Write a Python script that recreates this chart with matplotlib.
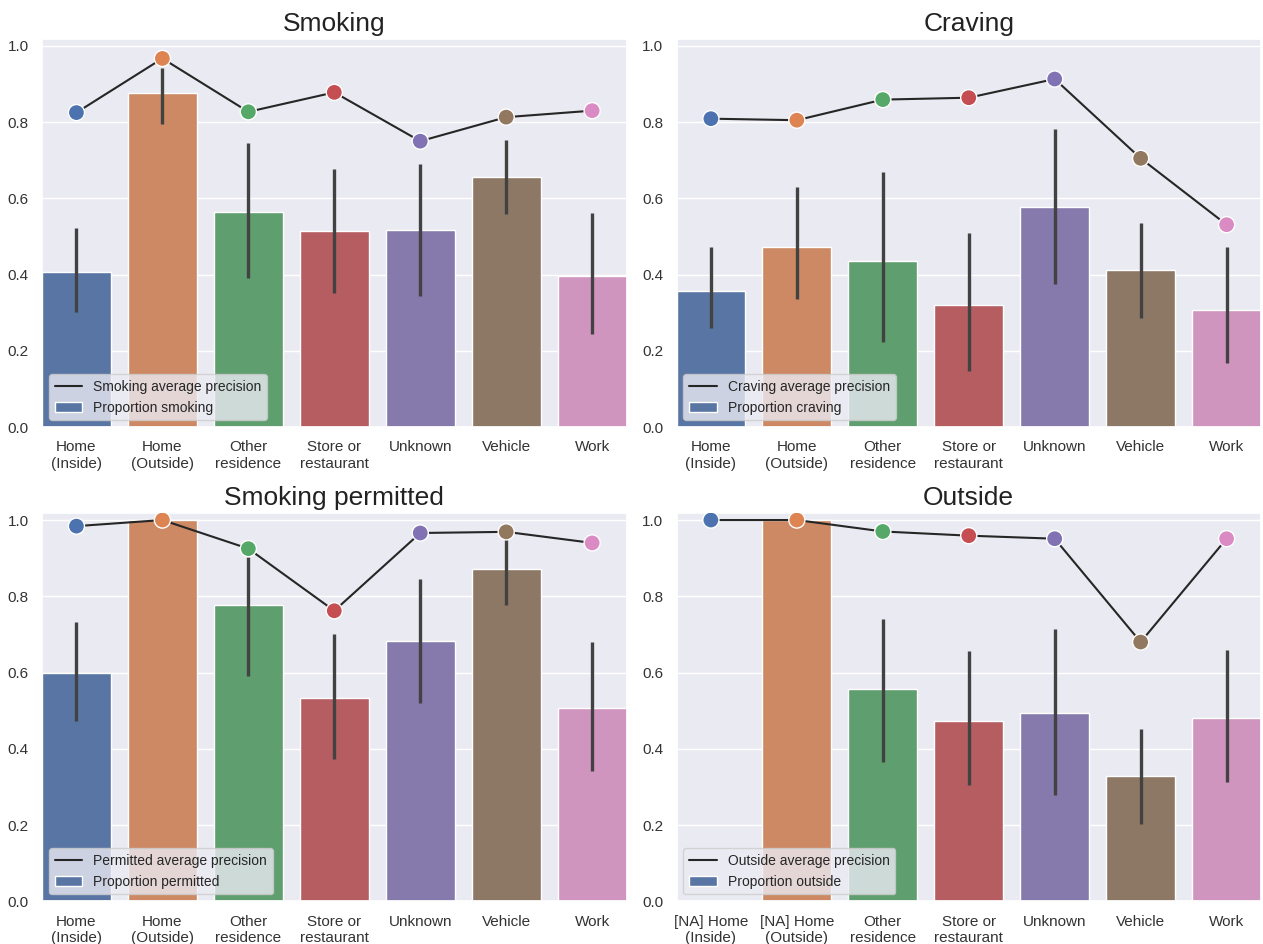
import matplotlib.pyplot as plt
import numpy as np
import seaborn as sns

sns.set_theme(style="darkgrid")
plt.rcParams['font.family'] = ['Liberation Sans', 'DejaVu Sans']

locations = ["Home\n(Inside)", "Home\n(Outside)", "Other\nresidence", "Store or\nrestaurant",
             "Unknown", "Vehicle", "Work"]
locations_outside = ["[NA] Home\n(Inside)", "[NA] Home\n(Outside)", "Other\nresidence",
                     "Store or\nrestaurant", "Unknown", "Vehicle", "Work"]

# proportion per location, with 95% CI bounds, and classifier average precision
smoking_prop = [0.406, 0.877, 0.564, 0.514, 0.517, 0.657, 0.397]
smoking_lo = [0.301, 0.795, 0.392, 0.351, 0.344, 0.559, 0.243]
smoking_hi = [0.521, 0.942, 0.746, 0.677, 0.691, 0.753, 0.561]
smoking_ap = [0.825, 0.967, 0.827, 0.878, 0.750, 0.813, 0.830]

craving_prop = [0.357, 0.472, 0.436, 0.321, 0.578, 0.411, 0.306]
craving_lo = [0.260, 0.336, 0.224, 0.147, 0.376, 0.287, 0.168]
craving_hi = [0.472, 0.629, 0.669, 0.509, 0.781, 0.535, 0.472]
craving_ap = [0.809, 0.805, 0.859, 0.864, 0.913, 0.705, 0.531]

permitted_prop = [0.599, 1.0, 0.778, 0.534, 0.682, 0.871, 0.507]
permitted_lo = [0.473, 1.0, 0.591, 0.373, 0.519, 0.776, 0.342]
permitted_hi = [0.732, 1.0, 0.903, 0.702, 0.846, 0.955, 0.679]
permitted_ap = [0.984, 1.0, 0.925, 0.762, 0.966, 0.969, 0.940]

outside_prop = [0.0, 1.0, 0.557, 0.473, 0.493, 0.328, 0.480]
outside_lo = [0.0, 1.0, 0.365, 0.304, 0.278, 0.204, 0.314]
outside_hi = [0.0, 1.0, 0.741, 0.657, 0.713, 0.452, 0.660]
outside_ap = [1.0, 1.0, 0.970, 0.959, 0.951, 0.680, 0.951]


def draw_panel(ax, title, name, labels, prop, lo, hi, ap):
    palette = sns.color_palette("deep", len(labels))
    bar_colors = [sns.desaturate(c, 0.75) for c in palette]
    x = np.arange(len(labels))

    bars = ax.bar(x, prop, width=0.8, color=bar_colors, zorder=2)
    ax.vlines(x, lo, hi, color='.26', lw=2.4, zorder=3)

    line, = ax.plot(x, ap, color='0.15', lw=1.5, zorder=4)
    ax.scatter(x, ap, s=135, c=palette, edgecolor='white', linewidth=1, zorder=5)

    ax.legend([line, bars], [f"{name} average precision", f"Proportion {name.lower()}"],
              loc='lower left', fontsize=10)
    ax.set_xticks(x, labels)
    ax.set_xlim(-0.4, 6.4)
    ax.set_ylim(0, 1.018)
    ax.grid(axis='x', visible=False)
    ax.tick_params(labelsize=11, colors='#333333')
    ax.set_title(title, fontsize=19, color='#222222')


fig, axes = plt.subplots(2, 2, figsize=(12.63, 9.44), dpi=100)
plt.subplots_adjust(left=0.0333, right=0.9984, top=0.9587, bottom=0.0452,
                    wspace=0.0855, hspace=0.2216)

draw_panel(axes[0, 0], "Smoking", "Smoking", locations,
           smoking_prop, smoking_lo, smoking_hi, smoking_ap)
draw_panel(axes[0, 1], "Craving", "Craving", locations,
           craving_prop, craving_lo, craving_hi, craving_ap)
draw_panel(axes[1, 0], "Smoking permitted", "Permitted", locations,
           permitted_prop, permitted_lo, permitted_hi, permitted_ap)
draw_panel(axes[1, 1], "Outside", "Outside", locations_outside,
           outside_prop, outside_lo, outside_hi, outside_ap)

plt.savefig("out.png", dpi=100)
